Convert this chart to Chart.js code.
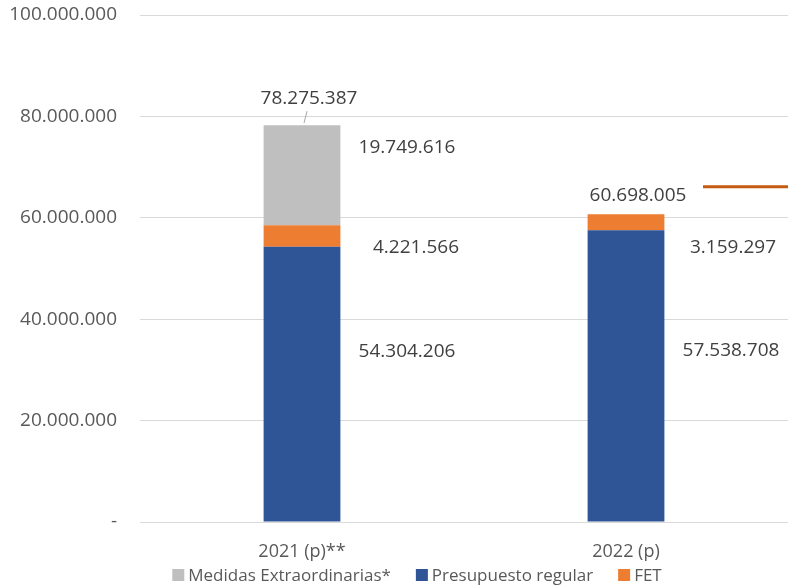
<!DOCTYPE html>
<html lang="es">
<head>
  <meta charset="UTF-8">
  <title>Presupuesto</title>
  <script src="https://cdn.jsdelivr.net/npm/chart.js"></script>
  <style>
    body { margin: 0; background: #fff; }
    .chart-container { position: relative; width: 788px; height: 588px; }
  </style>
</head>
<body>
  <div class="chart-container">
    <canvas id="budgetChart"></canvas>
  </div>
  <script>
    const categories = ['2021 (p)**', '2022 (p)'];
    const presupuestoRegular = [54304206, 57538708];
    const fet = [4221566, 3159297];
    const medidasExtra = [19749616, 0];
    const totals = [78275387, 60698005];
    const yTicks = [0, 20000000, 40000000, 60000000, 80000000, 100000000];

    const fmt = v => v === 0 ? '-' : v.toLocaleString('de-DE');

    // label nudges (px) per dataset / category, relative to the segment middle
    const labelNudge = [
      [[105, -32], [105, -25]],
      [[114, 12], [107, 25]],
      [[105, -28], [0, 0]]
    ];
    const legendOrder = [2, 0, 1];

    const labelsPlugin = {
      id: 'segLabels',
      afterDatasetsDraw(chart) {
        const ctx = chart.ctx;
        const yScale = chart.scales.y;
        const area = chart.chartArea;
        ctx.save();
        ctx.font = '19px "Open Sans"';
        ctx.fillStyle = '#404040';
        ctx.textAlign = 'center';
        ctx.textBaseline = 'middle';
        chart.data.datasets.forEach((ds, di) => {
          const meta = chart.getDatasetMeta(di);
          meta.data.forEach((bar, i) => {
            if (!ds.data[i]) return;
            const n = labelNudge[di][i];
            ctx.fillText(fmt(ds.data[i]), bar.x + n[0], (bar.y + bar.base) / 2 + n[1]);
          });
        });
        // totals above the bars
        const bars = chart.getDatasetMeta(0).data;
        totals.forEach((t, i) => {
          const yTop = yScale.getPixelForValue(t);
          const dx = i === 0 ? 7 : 12;
          const dy = i === 0 ? 27 : 19;
          ctx.fillText(fmt(t), bars[i].x + dx, yTop - dy);
          if (i === 0) {
            ctx.strokeStyle = '#a6a6a6';
            ctx.lineWidth = 1;
            ctx.beginPath();
            ctx.moveTo(bars[i].x + 5, yTop - 14);
            ctx.lineTo(bars[i].x + 2, yTop - 2);
            ctx.stroke();
          }
        });
        // short orange line at the right edge
        const yl = yScale.getPixelForValue(66100000);
        ctx.strokeStyle = '#C55A11';
        ctx.lineWidth = 3;
        ctx.beginPath();
        ctx.moveTo(area.right - 85, yl);
        ctx.lineTo(area.right, yl);
        ctx.stroke();

        // legend
        ctx.font = '17px "Open Sans"';
        ctx.fillStyle = '#595959';
        ctx.textAlign = 'left';
        const items = legendOrder.map(di => chart.data.datasets[di]);
        const box = 12, gap = 4, itemGap = 25;
        const widths = items.map(ds => box + gap + ctx.measureText(ds.label).width);
        const total = widths.reduce((a, b) => a + b, 0) + itemGap * (items.length - 1);
        let x = chart.width / 2 + 23 - total / 2;
        const ly = chart.height - 13;
        items.forEach((ds, k) => {
          ctx.fillStyle = ds.backgroundColor;
          ctx.fillRect(x, ly - box / 2, box, box);
          ctx.fillStyle = '#595959';
          ctx.fillText(ds.label, x + box + gap, ly + 1);
          x += widths[k] + itemGap;
        });
        ctx.restore();
      }
    };

    new Chart(document.getElementById('budgetChart'), {
      type: 'bar',
      data: {
        labels: categories,
        datasets: [
          { label: 'Presupuesto regular', data: presupuestoRegular, backgroundColor: '#2F5597' },
          { label: 'FET', data: fet, backgroundColor: '#ED7D31' },
          { label: 'Medidas Extraordinarias*', data: medidasExtra, backgroundColor: '#BFBFBF' }
        ]
      },
      options: {
        responsive: true,
        maintainAspectRatio: false,
        animation: false,
        layout: { padding: { top: 15, left: 0, right: 0, bottom: 26 } },
        datasets: { bar: { categoryPercentage: 1, barPercentage: 0.237 } },
        plugins: {
          tooltip: { enabled: false },
          legend: { display: false }
        },
        scales: {
          x: {
            stacked: true,
            grid: { display: false },
            border: { color: '#d9d9d9' },
            ticks: { font: { family: 'Open Sans', size: 18 }, color: '#595959', padding: 11 },
            afterFit: s => { s.height = 40; s.paddingLeft = 0; s.paddingRight = 0; }
          },
          y: {
            stacked: true,
            min: 0,
            max: 100000000,
            afterBuildTicks: axis => { axis.ticks = yTicks.map(v => ({ value: v })); },
            grid: { color: '#d9d9d9', drawTicks: false },
            border: { display: false },
            ticks: {
              font: { family: 'Open Sans', size: 19 },
              color: '#595959',
              padding: 23,
              callback: v => fmt(v)
            },
            afterFit: s => { s.width = 140; s.paddingTop = 0; s.paddingBottom = 0; }
          }
        }
      },
      plugins: [labelsPlugin]
    });
  </script>
</body>
</html>
